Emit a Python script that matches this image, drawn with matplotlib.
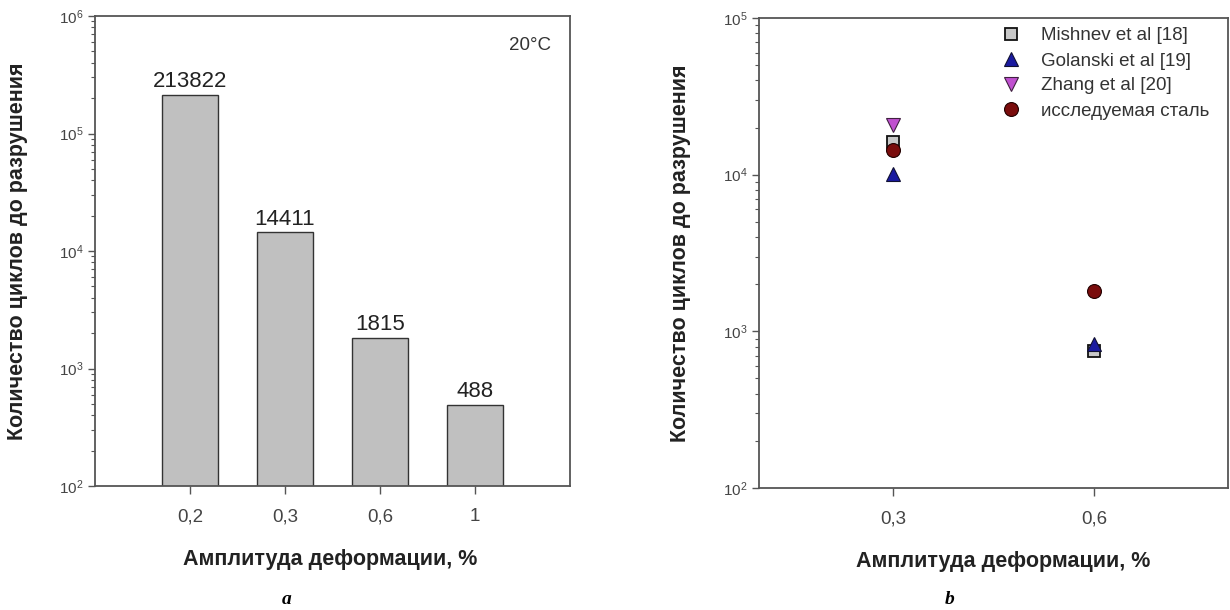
import matplotlib
matplotlib.use("Agg")
import matplotlib.pyplot as plt
import numpy as np
from matplotlib.ticker import LogLocator, NullFormatter

plt.rcParams['font.family'] = ['Liberation Sans', 'DejaVu Sans']

# (a) bar chart data
amp_labels = ['0,2', '0,3', '0,6', '1']
cycles = [213822, 14411, 1815, 488]

# (b) comparison data
amp_b = [0.3, 0.6]
amp_b_labels = ['0,3', '0,6']
mishnev = [16200, 750]
golanski = [10100, 830]
zhang = [20800]
zhang_x = [0.3]
studied = [14411, 1815]

W, H = 1230, 610
fig = plt.figure(figsize=(W / 100, H / 100), dpi=100)

spine_col = '#555555'
tick_col = '#444444'


def style_axes(ax, ytop):
    ax.set_yscale('log')
    ax.set_ylim(1e2, ytop)
    ax.yaxis.set_major_locator(LogLocator(base=10))
    ax.yaxis.set_minor_locator(LogLocator(base=10, subs=np.arange(2, 10)))
    ax.yaxis.set_minor_formatter(NullFormatter())
    for s in ax.spines.values():
        s.set_color(spine_col)
        s.set_linewidth(1.3)
    ax.tick_params(axis='y', which='major', direction='out', length=5,
                   width=1, colors=spine_col, labelcolor=tick_col,
                   labelsize=11, pad=3)
    ax.tick_params(axis='y', which='minor', direction='out', length=3,
                   width=0.8, colors=spine_col)
    ax.tick_params(axis='x', which='major', direction='out', length=6,
                   width=1, colors=spine_col, labelcolor=tick_col,
                   labelsize=13.5, pad=10)
    ax.tick_params(axis='x', which='minor', bottom=False)


# ---- panel a ----
ax_a = fig.add_axes([95 / W, 1 - 486 / H, 475 / W, 470 / H])
xpos = np.arange(1, len(cycles) + 1)
bars = ax_a.bar(xpos, cycles, width=0.585, color='#c0c0c0',
                edgecolor='#333333', linewidth=1.0)
style_axes(ax_a, 1e6)
ax_a.set_xlim(0, 5)
ax_a.set_xticks(xpos)
ax_a.set_xticklabels(amp_labels)
ax_a.bar_label(bars, labels=[str(c) for c in cycles], padding=2,
               fontsize=16, color='#222222')
ax_a.text(530 / W, 1 - 46 / H, '20°C', transform=fig.transFigure,
          ha='center', va='center', fontsize=13.5, color='#333333')
ax_a.set_xlabel('Амплитуда деформации, %', fontsize=15.5, fontweight='bold',
                color='#222222')
ax_a.xaxis.set_label_coords(0.495, -0.133)
ax_a.set_ylabel('Количество циклов до разрушения', fontsize=15.5,
                fontweight='bold', color='#222222')
ax_a.yaxis.set_label_coords(-0.14, 0.5)

# ---- panel b ----
ax_b = fig.add_axes([759 / W, 1 - 488 / H, 469 / W, 470 / H])
ms = 9.5
ax_b.plot(amp_b, mishnev, 's', ms=ms - 1.5, mfc='#c8c8c8', mec='#111111',
          mew=1.3, ls='none', label='Mishnev et al [18]')
ax_b.plot(amp_b, golanski, '^', ms=ms, mfc='#1a1aa0', mec='#111133',
          mew=0.8, ls='none', label='Golanski et al [19]')
ax_b.plot(zhang_x, zhang, 'v', ms=ms, mfc='#c050d0', mec='#402040',
          mew=0.8, ls='none', label='Zhang et al [20]')
ax_b.plot(amp_b, studied, 'o', ms=ms + 0.5, mfc='#7a0c0c', mec='#220000',
          mew=0.8, ls='none', label='исследуемая сталь')
style_axes(ax_b, 1e5)
ax_b.set_xlim(0.1, 0.8)
ax_b.set_xticks(amp_b)
ax_b.set_xticklabels(amp_b_labels)
ax_b.set_xlabel('Амплитуда деформации, %', fontsize=15.5, fontweight='bold',
                color='#222222')
ax_b.xaxis.set_label_coords(0.52, -0.133)
ax_b.set_ylabel('Количество циклов до разрушения', fontsize=15.5,
                fontweight='bold', color='#222222')
ax_b.yaxis.set_label_coords(-0.145, 0.5)
leg = ax_b.legend(loc='upper left', bbox_to_anchor=(990 / W, 1 - 18 / H),
                  bbox_transform=fig.transFigure, frameon=False,
                  fontsize=13.5, handletextpad=1.0, labelspacing=0.42,
                  borderpad=0, handlelength=1.2, labelcolor='#333333')

# panel letters
fig.text(287 / W, 1 - 599 / H, 'a', ha='center', va='center', fontsize=14,
         fontweight='bold', fontstyle='italic', family='Liberation Serif')
fig.text(950 / W, 1 - 600 / H, 'b', ha='center', va='center', fontsize=14,
         fontweight='bold', fontstyle='italic', family='Liberation Serif')

fig.savefig('out.png', dpi=100)
